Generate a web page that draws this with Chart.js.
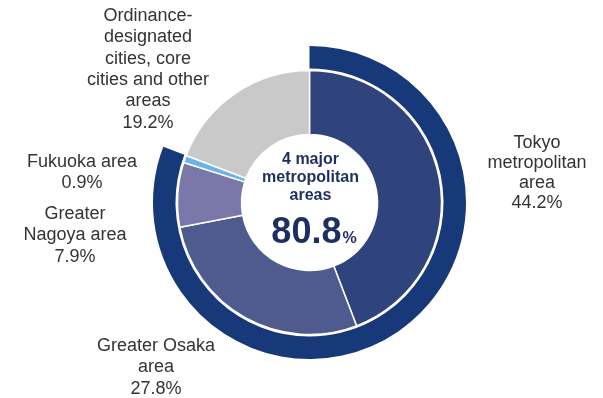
<!DOCTYPE html>
<html>
<head>
<meta charset="utf-8">
<script src="https://cdn.jsdelivr.net/npm/chart.js@4.4.1/dist/chart.umd.min.js"></script>
<style>
  html, body { margin: 0; padding: 0; background: #fff; }
  #wrap { width: 603px; height: 398px; }
</style>
</head>
<body>
<div id="wrap"><canvas id="chart" width="603" height="398"></canvas></div>
<script>
// share of each area (%), inner ring
const areas = ["Tokyo metropolitan area", "Greater Osaka area", "Greater Nagoya area", "Fukuoka area", "Ordinance-designated cities, core cities and other areas"]
const shares = [44.2, 27.8, 7.9, 0.9, 19.2]
const areaColors = ["#2f437d", "#4f5b8f", "#7a78a8", "#6cb4e8", "#c9c9c9"]

// labels drawn around the ring, one line per entry
const labelLines = [
  ["Tokyo", "metropolitan", "area", "44.2%"],
  ["Greater Osaka", "area", "27.8%"],
  ["Greater", "Nagoya area", "7.9%"],
  ["Fukuoka area", "0.9%"],
  ["Ordinance-", "designated", "cities, core", "cities and other", "areas", "19.2%"]
]
const labelSpots = [
  { x: 537, y: 148, lh: 20 },
  { x: 156, y: 351, lh: 21.3 },
  { x: 75, y: 219, lh: 21.3 },
  { x: 82, y: 167, lh: 21 },
  { x: 148, y: 21, lh: 21.3 }
]

// the four major areas together
const majorCount = 4
const majorTotal = Math.round(shares.slice(0, majorCount).reduce((a, b) => a + b, 0) * 10) / 10

const outerR = 156.5
const holeR = 68

const outsideLabels = {
  id: 'outsideLabels',
  afterDraw(chart) {
    const ctx = chart.ctx
    ctx.save()
    ctx.font = '18px "Liberation Sans", Arial, sans-serif'
    ctx.fillStyle = '#333'
    ctx.textAlign = 'center'
    ctx.textBaseline = 'alphabetic'
    labelLines.forEach((lines, i) => {
      const s = labelSpots[i]
      lines.forEach((t, j) => ctx.fillText(t, s.x, s.y + j * s.lh))
    })

    // centre caption
    const meta = chart.getDatasetMeta(2)
    const cx = meta.data[0].x
    const cy = meta.data[0].y
    ctx.fillStyle = '#1c2f5e'
    ctx.font = 'bold 16px "Liberation Sans", Arial, sans-serif'
    ctx.fillText(majorCount + ' major', cx + 1, cy - 38.5)
    ctx.fillText('metropolitan', cx + 1, cy - 20.5)
    ctx.fillText('areas', cx + 1, cy - 2.5)

    const big = majorTotal.toFixed(1)
    ctx.font = 'bold 36px "Liberation Sans", Arial, sans-serif'
    const wBig = ctx.measureText(big).width
    ctx.font = 'bold 16px "Liberation Sans", Arial, sans-serif'
    const wPct = ctx.measureText('%').width
    const left = cx + 4 - (wBig + wPct) / 2
    ctx.textAlign = 'left'
    ctx.font = 'bold 36px "Liberation Sans", Arial, sans-serif'
    ctx.fillText(big, left, cy + 40.5)
    ctx.font = 'bold 16px "Liberation Sans", Arial, sans-serif'
    ctx.fillText('%', left + wBig + 1, cy + 40.5)
    ctx.restore()
  }
}

new Chart(document.getElementById('chart'), {
  type: 'doughnut',
  data: {
    labels: areas,
    datasets: [
      {
        // outer band: the four major areas
        data: [majorTotal, 100 - majorTotal],
        backgroundColor: ['#17397a', 'rgba(0,0,0,0)'],
        borderWidth: 0,
        weight: 22.5
      },
      {
        // thin blank ring between the two bands
        data: [100],
        backgroundColor: ['rgba(0,0,0,0)'],
        borderWidth: 0,
        weight: 2
      },
      {
        data: shares,
        backgroundColor: areaColors,
        borderColor: '#fff',
        borderWidth: 1.5,
        weight: 64
      }
    ]
  },
  options: {
    responsive: false,
    animation: false,
    radius: outerR,
    cutout: (holeR / outerR * 100) + '%',
    layout: { padding: { left: 16, top: 7 } },
    plugins: {
      legend: { display: false },
      tooltip: { enabled: false }
    }
  },
  plugins: [outsideLabels]
})
</script>
</body>
</html>
